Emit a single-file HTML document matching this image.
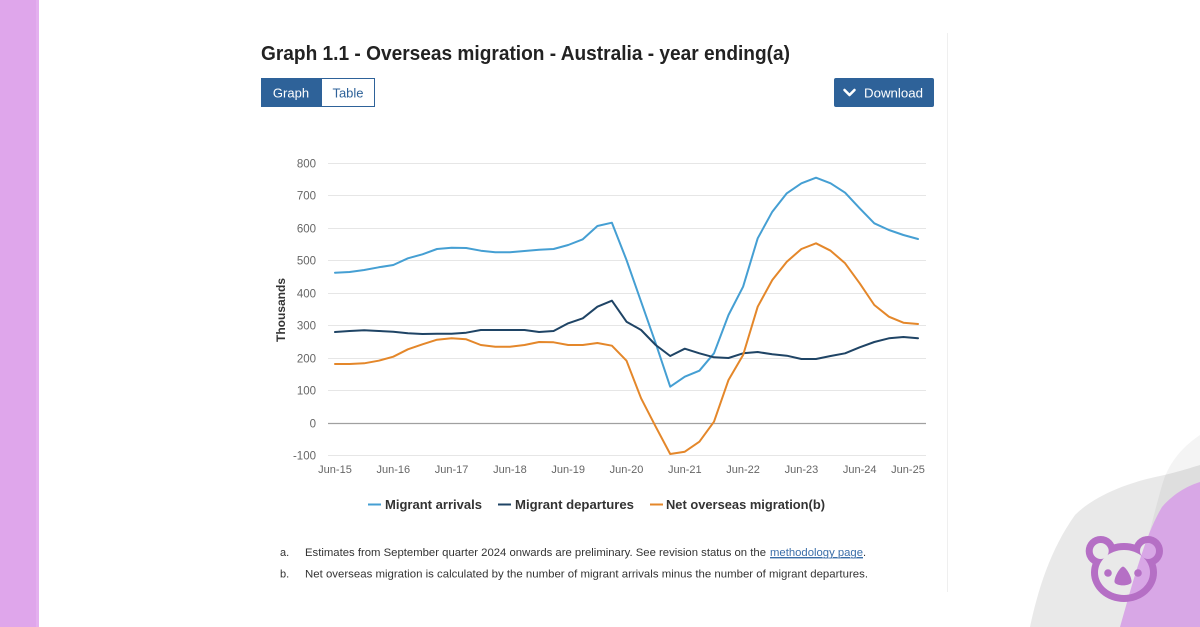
<!DOCTYPE html>
<html>
<head>
<meta charset="utf-8">
<style>
  html,body{margin:0;padding:0;background:#fff;}
  svg{display:block;}
  text{font-family:"Liberation Sans", Arial, sans-serif;}
</style>
</head>
<body>
<svg width="1200" height="627" viewBox="0 0 1200 627" xmlns="http://www.w3.org/2000/svg">
  <rect x="0" y="0" width="1200" height="627" fill="#ffffff"/>
  <!-- left purple bar -->
  <rect x="0" y="0" width="39" height="627" fill="#dfa6eb"/>
  <rect x="36" y="0" width="3" height="627" fill="#e4b0ef"/>

  <!-- right faint border -->
  <line x1="947.5" y1="33" x2="947.5" y2="592" stroke="#efefef" stroke-width="1"/>

  <!-- bottom-right decorative shapes -->
  <path d="M1030,627 C1038,590 1050,550 1075,515 C1095,495 1130,482 1160,476 C1178,472 1190,468 1200,465 L1200,627 Z" fill="#e9e9e9"/>
  <path d="M1200,435 C1185,445 1170,460 1163,482 C1153,515 1140,575 1123,627 L1200,627 Z" fill="#000" fill-opacity="0.045"/>
  <path d="M1120,627 C1132,585 1145,535 1162,507 C1175,492 1190,485 1200,482 L1200,627 Z" fill="#d8a7e6"/>

  <!-- koala -->
  <defs>
    <mask id="km" maskUnits="userSpaceOnUse" x="1060" y="510" width="130" height="117">
      <rect x="1060" y="510" width="130" height="117" fill="#000"/>
      <circle cx="1100.7" cy="551" r="15" fill="#fff"/>
      <circle cx="1148" cy="551" r="15" fill="#fff"/>
      <ellipse cx="1124" cy="572.5" rx="33" ry="29.5" fill="#fff"/>
      <circle cx="1100.7" cy="551" r="8" fill="#000"/>
      <circle cx="1148" cy="551" r="8" fill="#000"/>
      <ellipse cx="1124" cy="572.5" rx="26" ry="22.5" fill="#000"/>
    </mask>
  </defs>
  <rect x="1060" y="510" width="130" height="117" fill="#b56fc5" mask="url(#km)"/>
  <circle cx="1108" cy="573" r="3.8" fill="#b56fc5"/>
  <circle cx="1138" cy="573" r="3.8" fill="#b56fc5"/>
  <path d="M1123,566.5 C1127,568 1132,578 1131.5,582 C1130.5,586.5 1115.5,586.5 1114.5,582 C1114,578 1119,568 1123,566.5 Z" fill="#b56fc5"/>

  <!-- title -->
  <text x="261" y="60" font-size="20" font-weight="bold" fill="#222" textLength="529" lengthAdjust="spacingAndGlyphs">Graph 1.1 - Overseas migration - Australia - year ending(a)</text>

  <!-- buttons -->
  <rect x="261" y="78" width="60" height="29" fill="#2e6299"/>
  <rect x="321.5" y="78.5" width="53" height="28" fill="#fff" stroke="#2e6299" stroke-width="1"/>
  <text x="291" y="97.5" font-size="13" fill="#fff" text-anchor="middle">Graph</text>
  <text x="348" y="97.5" font-size="13" fill="#2e6299" text-anchor="middle">Table</text>

  <rect x="834" y="78" width="100" height="29" rx="2" fill="#2e6299"/>
  <path d="M844.5,90 L849.5,95 L854.5,90" fill="none" stroke="#fff" stroke-width="2.6" stroke-linecap="round" stroke-linejoin="round"/>
  <text x="864" y="97.5" font-size="13" fill="#fff" textLength="59" lengthAdjust="spacingAndGlyphs">Download</text>

  <!-- gridlines -->
  <g stroke="#e6e6e6" stroke-width="1">
    <line x1="328" y1="163.5" x2="926" y2="163.5"/>
    <line x1="328" y1="195.5" x2="926" y2="195.5"/>
    <line x1="328" y1="228.5" x2="926" y2="228.5"/>
    <line x1="328" y1="260.5" x2="926" y2="260.5"/>
    <line x1="328" y1="293.5" x2="926" y2="293.5"/>
    <line x1="328" y1="325.5" x2="926" y2="325.5"/>
    <line x1="328" y1="358.5" x2="926" y2="358.5"/>
    <line x1="328" y1="390.5" x2="926" y2="390.5"/>
    <line x1="328" y1="455.5" x2="926" y2="455.5"/>
  </g>
  <line x1="328" y1="423.5" x2="926" y2="423.5" stroke="#a0a0a0" stroke-width="1.2"/>

  <!-- y labels -->
  <g font-size="11.5" fill="#666" text-anchor="end">
    <text x="316" y="167.5">800</text>
    <text x="316" y="199.5">700</text>
    <text x="316" y="232.5">600</text>
    <text x="316" y="264.5">500</text>
    <text x="316" y="297.5">400</text>
    <text x="316" y="329.5">300</text>
    <text x="316" y="362.5">200</text>
    <text x="316" y="394.5">100</text>
    <text x="316" y="427.5">0</text>
    <text x="316" y="459.5">-100</text>
  </g>
  <text transform="translate(285,310) rotate(-90)" font-size="12" font-weight="bold" fill="#333" text-anchor="middle">Thousands</text>

  <!-- x labels -->
  <g font-size="11" fill="#666" text-anchor="middle">
    <text x="335" y="473">Jun-15</text>
    <text x="393.3" y="473">Jun-16</text>
    <text x="451.6" y="473">Jun-17</text>
    <text x="509.9" y="473">Jun-18</text>
    <text x="568.2" y="473">Jun-19</text>
    <text x="626.5" y="473">Jun-20</text>
    <text x="684.8" y="473">Jun-21</text>
    <text x="743.1" y="473">Jun-22</text>
    <text x="801.4" y="473">Jun-23</text>
    <text x="859.7" y="473">Jun-24</text>
    <text x="908" y="473">Jun-25</text>
  </g>

  <!-- series -->
  <g fill="none" stroke-width="2" stroke-linejoin="round" stroke-linecap="round">
    <polyline stroke="#459fd3" points="335.0,272.7 349.6,272.0 364.2,270.0 378.7,267.3 393.3,265.0 407.9,258.3 422.5,254.3 437.0,249.0 451.6,247.7 466.2,248.0 480.8,250.7 495.3,252.3 509.9,252.3 524.5,251.0 539.1,249.7 553.6,249.0 568.2,245.0 582.8,239.3 597.4,226.0 611.9,222.7 626.5,260.0 641.1,301.7 655.7,343.3 670.2,386.7 684.8,376.7 699.4,370.7 714.0,353.3 728.5,315.0 743.1,286.7 757.7,238.3 772.3,211.7 786.8,193.3 801.4,183.3 816.0,177.7 830.6,183.3 845.1,192.7 859.7,208.3 874.3,223.3 888.9,230.0 903.4,235.0 918.0,239.0"/>
    <polyline stroke="#1f4465" points="335.0,332.0 349.6,331.0 364.2,330.3 378.7,331.0 393.3,331.7 407.9,333.3 422.5,334.0 437.0,333.7 451.6,333.7 466.2,332.7 480.8,330.0 495.3,330.0 509.9,330.0 524.5,330.0 539.1,332.0 553.6,331.0 568.2,323.3 582.8,318.3 597.4,306.7 611.9,300.7 626.5,321.7 641.1,330.0 655.7,345.0 670.2,356.0 684.8,348.7 699.4,353.3 714.0,357.3 728.5,358.0 743.1,353.3 757.7,352.0 772.3,354.3 786.8,355.7 801.4,359.0 816.0,359.0 830.6,356.0 845.1,353.3 859.7,347.3 874.3,342.0 888.9,338.3 903.4,337.0 918.0,338.3"/>
    <polyline stroke="#e4872a" points="335.0,364.0 349.6,364.0 364.2,363.3 378.7,360.7 393.3,356.7 407.9,349.3 422.5,344.3 437.0,339.7 451.6,338.3 466.2,339.3 480.8,345.0 495.3,346.7 509.9,346.7 524.5,345.0 539.1,342.0 553.6,342.3 568.2,345.0 582.8,345.0 597.4,343.0 611.9,345.7 626.5,360.7 641.1,398.3 655.7,426.7 670.2,454.0 684.8,451.7 699.4,441.7 714.0,421.7 728.5,380.0 743.1,355.0 757.7,306.7 772.3,280.0 786.8,261.7 801.4,249.0 816.0,243.3 830.6,250.7 845.1,263.3 859.7,283.3 874.3,305.0 888.9,316.7 903.4,322.7 918.0,324.0"/>
  </g>

  <!-- legend -->
  <g stroke-width="2">
    <line x1="368" y1="504.5" x2="381" y2="504.5" stroke="#459fd3"/>
    <line x1="498" y1="504.5" x2="511" y2="504.5" stroke="#1f4465"/>
    <line x1="650" y1="504.5" x2="663" y2="504.5" stroke="#e4872a"/>
  </g>
  <g font-size="13" font-weight="bold" fill="#333">
    <text x="385" y="509" textLength="97" lengthAdjust="spacingAndGlyphs">Migrant arrivals</text>
    <text x="515" y="509" textLength="119" lengthAdjust="spacingAndGlyphs">Migrant departures</text>
    <text x="666" y="509" textLength="159" lengthAdjust="spacingAndGlyphs">Net overseas migration(b)</text>
  </g>

  <!-- footnotes -->
  <g font-size="11" fill="#333">
    <text x="280" y="556">a.</text>
    <text x="305" y="556" textLength="461" lengthAdjust="spacingAndGlyphs">Estimates from September quarter 2024 onwards are preliminary. See revision status on the</text>
    <text x="770" y="556" fill="#3b6ea8" textLength="93" lengthAdjust="spacingAndGlyphs" text-decoration="underline">methodology page</text>
    <text x="863" y="556">.</text>
    <text x="280" y="577.5">b.</text>
    <text x="305" y="577.5" textLength="563" lengthAdjust="spacingAndGlyphs">Net overseas migration is calculated by the number of migrant arrivals minus the number of migrant departures.</text>
  </g>
  <line x1="770" y1="558" x2="863" y2="558" stroke="#3b6ea8" stroke-width="0.8"/>
</svg>
</body>
</html>
